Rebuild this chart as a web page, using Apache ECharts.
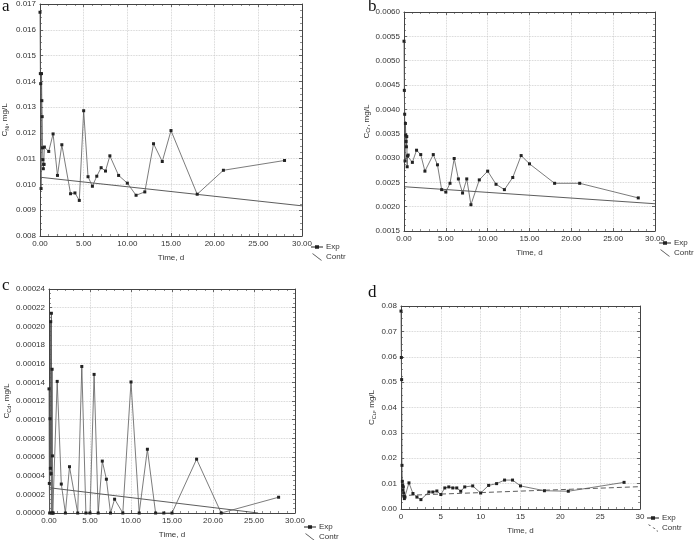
<!DOCTYPE html>
<html>
<head>
<meta charset="utf-8">
<script src="https://cdn.jsdelivr.net/npm/echarts@6/dist/echarts.min.js"></script>
<style>html,body{margin:0;padding:0;background:#fff}#c{width:694px;height:540px}</style>
</head>
<body>
<div id="c"></div>
<script>
// ---- Data ----
const timeA = [0, 0.04, 0.08, 0.125, 0.17, 0.21, 0.25, 0.29, 0.33, 0.38, 0.42, 0.46, 0.5, 1, 1.5, 2, 2.5, 3.5, 4, 4.5, 5, 5.5, 6, 6.5, 7, 7.5, 8, 9, 10, 11, 12, 13, 14, 15, 18, 21, 28];
const expA = [0.01668, 0.0143, 0.01391, 0.00984, 0.0143, 0.01325, 0.01263, 0.01142, 0.01096, 0.01061, 0.01078, 0.01078, 0.01145, 0.01128, 0.01196, 0.01035, 0.01154, 0.00964, 0.00967, 0.00938, 0.01286, 0.0103, 0.00993, 0.01032, 0.01065, 0.01052, 0.01111, 0.01035, 0.01005, 0.00958, 0.00971, 0.01158, 0.01089, 0.01209, 0.00962, 0.01055, 0.01093];
const contrTimeA = [0, 30];
const contrA = [0.01028, 0.00917];

const timeB = [0, 0.04, 0.08, 0.125, 0.17, 0.21, 0.25, 0.29, 0.33, 0.38, 0.42, 0.5, 1, 1.5, 2, 2.5, 3.5, 4, 4.5, 5, 5.5, 6, 6.5, 7, 7.5, 8, 9, 10, 11, 12, 13, 14, 15, 18, 21, 28];
const expB = [0.0054, 0.00439, 0.0039, 0.00294, 0.00371, 0.00347, 0.00334, 0.00323, 0.00344, 0.00282, 0.00304, 0.00306, 0.00291, 0.00316, 0.00307, 0.00273, 0.00307, 0.00286, 0.00235, 0.0023, 0.00248, 0.00299, 0.00257, 0.00228, 0.00257, 0.00204, 0.00255, 0.00273, 0.00246, 0.00235, 0.0026, 0.00305, 0.00288, 0.00248, 0.00248, 0.00218];
const contrTimeB = [0, 30];
const contrB = [0.00241, 0.00206];

const timeC = [0, 0.04, 0.08, 0.125, 0.17, 0.21, 0.25, 0.29, 0.33, 0.38, 0.42, 0.46, 0.5, 1, 1.5, 2, 2.5, 3.5, 4, 4.5, 5, 5.5, 6, 6.5, 7, 7.5, 8, 9, 10, 11, 12, 13, 14, 15, 18, 21, 28];
const expC = [0.000133, 0.0000317, 0, 0.000101, 0.0000479, 0.000205, 0.0000422, 0.000214, 0, 0.000154, 0.0000612, 0, 0, 0.000141, 0.000031, 0, 0.0000496, 0, 0.000157, 0, 0, 0.0001485, 0, 0.0000556, 0.0000362, 0, 0.0000148, 0, 0.0001404, 0, 0.0000683, 0, 0, 0, 0.0000577, 0, 0.0000169];
const contrTimeC = [0, 25.5];
const contrC = [0.0000271, 0];

const timeD = [0, 0.04, 0.08, 0.125, 0.17, 0.21, 0.25, 0.29, 0.33, 0.38, 0.42, 0.5, 1, 1.5, 2, 2.5, 3.5, 4, 4.5, 5, 5.5, 6, 6.5, 7, 7.5, 8, 9, 10, 11, 12, 13, 14, 15, 18, 21, 28];
const expD = [0.078, 0.0597, 0.051, 0.0172, 0.0109, 0.0093, 0.0074, 0.0087, 0.0063, 0.005, 0.0041, 0.0047, 0.0103, 0.0061, 0.0047, 0.0037, 0.0067, 0.0067, 0.0071, 0.0057, 0.0083, 0.0087, 0.0083, 0.0083, 0.007, 0.0087, 0.0091, 0.0063, 0.0093, 0.01, 0.0114, 0.0114, 0.0091, 0.0072, 0.007, 0.0105];
const contrTimeD = [0, 30];
const contrD = [0.0053, 0.0088];

const yTitles = [['C', 'Ni', ', mg/L'], ['C', 'Cr', ', mg/L'], ['C', 'Cd', ', mg/L'], ['C', 'Cu', ', mg/L']];
const panelLetters = ['a', 'b', 'c', 'd'];
const legendNames = ['Exp', 'Contr'];

// ---- Layout ----
const panels = [
  {grid: {left: 38, top: 3, width: 264, height: 233}, x: timeA, y: expA, cx: contrTimeA, cy: contrA,
   ymin: 0.008, ymax: 0.017, yint: 0.001, ydec: 3, xdec: 2, legend: {left: 311, top: 243}, letter: {left: 2, top: -2}, nameGap: 30, dashed: false},
  {grid: {left: 404, top: 12, width: 251, height: 219}, x: timeB, y: expB, cx: contrTimeB, cy: contrB,
   ymin: 0.0015, ymax: 0.006, yint: 0.0005, ydec: 4, xdec: 2, legend: {left: 659, top: 239}, letter: {left: 368, top: -2}, nameGap: 31, dashed: false},
  {grid: {left: 49, top: 289, width: 246, height: 228}, x: timeC, y: expC, cx: contrTimeC, cy: contrC,
   ymin: 0, ymax: 0.00024, yint: 0.00002, ydec: 5, xdec: 2, legend: {left: 304, top: 523}, letter: {left: 2, top: 277}, nameGap: 37, dashed: false},
  {grid: {left: 401, top: 306, width: 239, height: 203}, x: timeD, y: expD, cx: contrTimeD, cy: contrD,
   ymin: 0, ymax: 0.08, yint: 0.01, ydec: 2, xdec: 0, legend: {left: 647, top: 514}, letter: {left: 368, top: 284}, nameGap: 24, dashed: true}
];

const FONT = 'Liberation Sans, Arial, sans-serif';
const lineCol = '#444';
const grids = [], xAxes = [], yAxes = [], series = [], legends = [], titles = [];

panels.forEach((p, i) => {
  grids.push(Object.assign({containLabel: false}, p.grid));
  const tickCommon = {show: true, inside: true, length: 3, lineStyle: {color: lineCol, width: 0.8}};
  const minorCommon = {show: true, splitNumber: 5, length: 2, lineStyle: {color: lineCol, width: 0.6}};
  xAxes.push({
    type: 'value', gridIndex: i, position: 'bottom', min: 0, max: 30, interval: 5,
    axisLine: {show: true, onZero: false, lineStyle: {color: lineCol, width: 1}},
    axisTick: tickCommon, minorTick: minorCommon,
    splitLine: {show: true, lineStyle: {color: '#c8c8c8', type: 'dotted', width: 0.8}},
    axisLabel: {fontSize: 8, color: '#333', fontFamily: FONT, margin: 4,
      formatter: v => v.toFixed(p.xdec)},
    name: 'Time, d', nameLocation: 'middle', nameGap: 18,
    nameTextStyle: {fontSize: 8, color: '#333', fontFamily: FONT}
  });
  xAxes.push({
    type: 'value', gridIndex: i, position: 'top', min: 0, max: 30, interval: 5,
    axisLine: {show: true, onZero: false, lineStyle: {color: lineCol, width: 1}},
    axisTick: tickCommon, minorTick: minorCommon,
    splitLine: {show: false}, axisLabel: {show: false}
  });
  const t = yTitles[i];
  yAxes.push({
    type: 'value', gridIndex: i, position: 'left', min: p.ymin, max: p.ymax, interval: p.yint,
    axisLine: {show: true, onZero: false, lineStyle: {color: lineCol, width: 1}},
    axisTick: tickCommon, minorTick: Object.assign({}, minorCommon, {splitNumber: 4}),
    splitLine: {show: true, lineStyle: {color: '#c8c8c8', type: 'dotted', width: 0.8}},
    axisLabel: {fontSize: 8, color: '#333', fontFamily: FONT, margin: 4,
      formatter: v => v.toFixed(p.ydec)},
    name: '{m|' + t[0] + '}{s|' + t[1] + '}{m|' + t[2] + '}',
    nameLocation: 'middle', nameGap: p.nameGap, nameRotate: 90,
    nameTextStyle: {fontFamily: FONT, color: '#333',
      rich: {m: {fontSize: 8, fontFamily: FONT, color: '#333'},
             s: {fontSize: 5.5, fontFamily: FONT, color: '#333', padding: [4, 0, 0, 0]}}}
  });
  yAxes.push({
    type: 'value', gridIndex: i, position: 'right', min: p.ymin, max: p.ymax, interval: p.yint,
    axisLine: {show: true, onZero: false, lineStyle: {color: lineCol, width: 1}},
    axisTick: tickCommon, minorTick: Object.assign({}, minorCommon, {splitNumber: 4}),
    splitLine: {show: false}, axisLabel: {show: false}
  });
  series.push({
    name: 'Exp', type: 'line', xAxisIndex: 2 * i, yAxisIndex: 2 * i,
    data: p.x.map((v, k) => [v, p.y[k]]),
    symbol: 'rect', symbolSize: 3, showSymbol: true,
    lineStyle: {color: '#5a5a5a', width: 0.8},
    itemStyle: {color: '#222'}, color: '#222',
    animation: false, z: 3
  });
  series.push({
    name: 'Contr', type: 'line', xAxisIndex: 2 * i, yAxisIndex: 2 * i,
    data: p.cx.map((v, k) => [v, p.cy[k]]),
    symbol: 'none', showSymbol: false,
    lineStyle: {color: '#333', width: 0.8, type: p.dashed ? [5, 3] : 'solid'},
    itemStyle: {color: '#333'}, color: '#333',
    animation: false, z: 2
  });
  legends.push({
    left: p.legend.left, top: p.legend.top, orient: 'vertical', padding: 0,
    width: 60, height: 24,
    itemWidth: 12, itemHeight: 7, itemGap: 2, selectedMode: false,
    textStyle: {fontSize: 8, lineHeight: 8, color: '#333', fontFamily: FONT, padding: [0, 0, 0, -2]},
    data: [
      {name: legendNames[0], icon: 'path://M0,3.4H4V2H8V3.4H12V4.2H8V5.6H4V4.2H0Z'},
      {name: legendNames[1], icon: p.dashed
        ? 'path://M2,0L3,0L5,1.6L4,1.6Z M6.5,3L7.5,3L9.5,4.6L8.5,4.6Z M10.5,6L11.5,6L12,7L11,7Z'
        : 'path://M2,0L3,0L12,7L11,7Z'}
    ]
  });
  titles.push({
    text: panelLetters[i], left: p.letter.left, top: p.letter.top, padding: 0,
    textStyle: {fontFamily: 'Liberation Serif, Times New Roman, serif', fontSize: 17, fontWeight: 'normal', color: '#111'}
  });
});

const chart = echarts.init(document.getElementById('c'), null, {renderer: 'canvas'});
chart.setOption({
  backgroundColor: '#fff',
  animation: false,
  title: titles,
  grid: grids,
  xAxis: xAxes,
  yAxis: yAxes,
  legend: legends,
  series: series
});
</script>
</body>
</html>
